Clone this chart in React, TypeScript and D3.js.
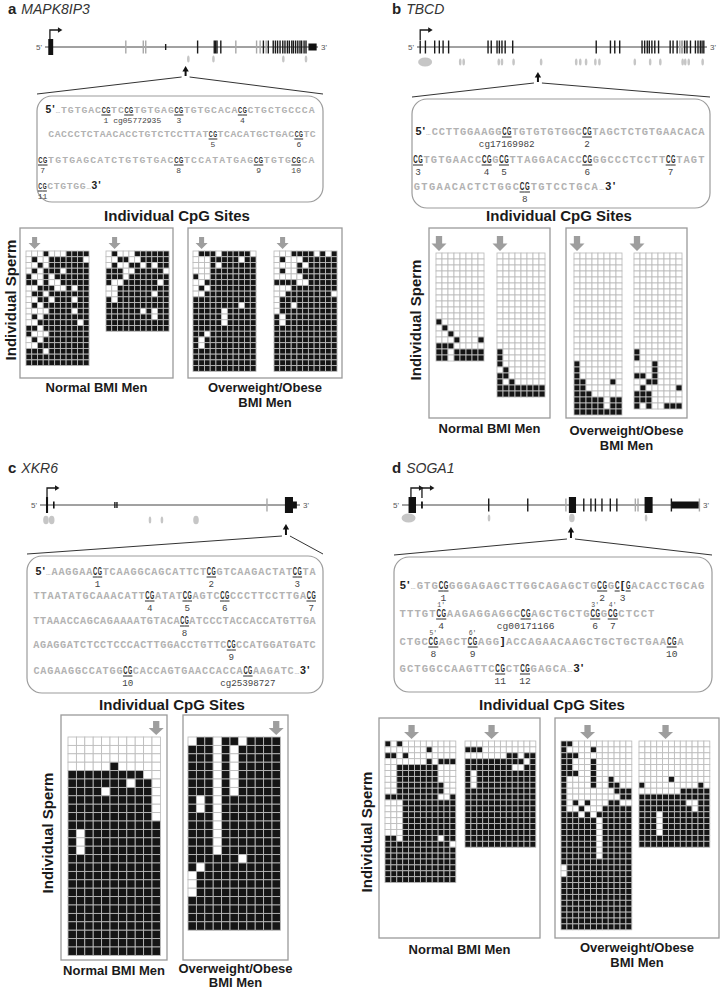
import React from "react";
import * as d3 from "d3";

// ===================== DATA =====================
const panelLetters = ["a", "b", "c", "d"];
const geneNames = ["MAPK8IP3", "TBCD", "XKR6", "SOGA1"];
const groupNormal = ["Normal BMI Men"];
const groupObese = ["Overweight/Obese", "BMI Men"];
const cpgTitle = "Individual CpG Sites";
const spermTitle = "Individual Sperm";

// gene models: [start, end, kind] on a 0-100 relative genomic axis
// kinds: C coding block, U UTR block, T exon tick, G grey tick, S short tick
const exonsA: [number, number, string][] = [
  [1.2, 3.0, "C"], [29.6, 29.6, "G"], [36.0, 36.0, "G"], [36.9, 36.9, "G"], [44.2, 44.2, "S"],
  [55.9, 55.9, "T"], [62.0, 62.0, "T"], [62.5, 62.5, "T"], [63.0, 63.0, "T"], [64.4, 64.4, "T"],
  [69.9, 69.9, "G"], [77.5, 77.5, "G"], [78.8, 78.8, "G"], [80.0, 80.0, "T"], [81.0, 81.0, "G"],
  [81.8, 81.8, "T"], [83.6, 83.6, "T"], [84.4, 84.4, "T"], [85.2, 85.2, "T"], [86.1, 86.1, "T"],
  [87.1, 87.1, "T"], [87.9, 87.9, "T"], [88.8, 88.8, "T"], [89.5, 89.5, "T"], [90.4, 90.4, "T"],
  [91.0, 91.0, "T"], [91.8, 91.8, "T"], [92.6, 92.6, "T"], [93.4, 93.4, "T"], [94.0, 94.0, "T"],
  [94.9, 94.9, "T"], [95.6, 95.6, "T"], [96.5, 99.5, "U"],
];
const exonsB: [number, number, string][] = [
  [1.1, 1.1, "T"], [2.9, 2.9, "T"], [6.1, 6.1, "T"], [7.7, 7.7, "T"], [9.0, 9.0, "T"], [10.9, 10.9, "T"],
  [24.5, 24.5, "T"], [25.6, 25.6, "T"], [27.6, 27.6, "T"], [28.4, 28.4, "T"], [29.3, 29.3, "T"],
  [30.4, 30.4, "T"], [33.0, 33.0, "T"], [61.8, 61.8, "T"], [66.7, 66.7, "T"], [68.2, 68.2, "T"],
  [69.9, 69.9, "T"], [77.6, 77.6, "T"], [78.5, 78.5, "T"], [79.4, 79.4, "T"], [80.1, 80.1, "T"],
  [81.0, 81.0, "T"], [82.0, 82.0, "T"], [83.3, 83.3, "T"], [87.3, 87.3, "T"], [88.3, 88.3, "T"],
  [89.7, 89.7, "T"], [90.6, 90.6, "G"], [91.2, 91.2, "G"], [91.6, 91.6, "G"], [92.3, 92.3, "T"],
  [93.1, 93.1, "T"], [94.3, 94.3, "T"], [96.0, 96.0, "T"], [96.9, 96.9, "T"], [97.7, 97.7, "T"],
  [98.3, 98.3, "T"], [98.9, 98.9, "T"],
];
const exonsC: [number, number, string][] = [
  [2.3, 3.1, "C"], [5.0, 5.6, "U"], [28.8, 28.8, "S"], [29.6, 29.6, "S"], [87.3, 87.3, "G"],
  [94.2, 97.3, "C"], [97.3, 98.8, "U"],
];
const exonsD: [number, number, string][] = [
  [2.2, 4.7, "C"], [6.4, 7.0, "U"], [29.1, 29.1, "T"], [42.2, 42.2, "T"], [55.0, 55.0, "G"],
  [56.0, 58.4, "C"], [61.0, 61.0, "T"], [63.4, 63.4, "T"], [64.9, 64.9, "T"], [67.1, 67.1, "T"],
  [69.9, 69.9, "T"], [72.1, 72.1, "T"], [78.3, 78.3, "G"], [79.2, 79.2, "G"], [81.4, 84.1, "C"],
  [90.4, 90.4, "T"], [90.6, 99.6, "U"], [99.8, 99.8, "G"],
];
// CpG islands: [position, size]
const islandsA: [number, string][] = [[52.5, "S"], [61.7, "S"], [87.3, "S"], [95.6, "S"]];
const islandsB: [number, string][] = [
  [2.8, "L"], [14.9, "S"], [16.1, "S"], [28.2, "S"], [29.3, "S"], [33.3, "S"], [42.8, "S"],
  [54.9, "S"], [56.3, "S"], [58.3, "S"], [61.5, "S"], [62.9, "S"], [75.1, "S"], [80.4, "S"],
  [83.9, "S"], [91.6, "S"], [92.5, "S"], [93.7, "S"], [98.5, "S"],
];
const islandsC: [number, string][] = [[2.3, "M"], [4.5, "M"], [42.3, "S"], [46.9, "S"], [60.0, "M"]];
const islandsD: [number, string][] = [[2.2, "L"], [29.2, "S"], [57.0, "M"], [81.9, "S"]];
const promotersA = [1.8];
const promotersB = [1.1];
const promotersC = [2.7];
const promotersD = [3.0, 6.7];
const targetA = 51.5;
const targetB = 41.7;
const targetC = 94.6;
const targetD = 56.7;

// sequences: <..> marks CpG (bold, underlined)
const seqA = [
  "5'…TGTGAC<CG>TC<CG>TGTGAG<CG>TGTGCACA<CG>CTGCTGCCCA",
  "CACCCTCTAACACCTGTCTCCTTAT<CG>TCACATGCTGAC<CG>TC",
  "<CG>TGTGAGCATCTGTGTGAC<CG>TCCATATGAG<CG>TGTG<CG>CA",
  "<CG>CTGTGG…3'",
];
const seqLabelsA: (string | { t: string })[][] = [[{ t: "1 cg05772935" }, "", "3", "4"], ["5", "6"], ["7", "8", "9", "10"], ["11"]];
const seqB = [
  "5'…CCTTGGAAGG<CG>TGTGTGTGGC<CG>TAGCTCTGTGAACACA",
  "<CG>TGTGAACC<CG>G<CG>TTAGGACACC<CG>GGCCCTCCTT<CG>TAGT",
  "GTGAACACTCTGGC<CG>TGTCCTGCA…3'",
];
const seqLabelsB: (string | { t: string })[][] = [["cg17169982", "2"], ["3", "4", "5", "6", "7"], ["8"]];
const seqC = [
  "5'…AAGGAA<CG>TCAAGGCAGCATTCT<CG>GTCAAGACTAT<CG>TA",
  "TTAATATGCAAACATT<CG>ATAT<CG>AGTC<CG>CCCTTCCTTGA<CG>",
  "TTAAACCAGCAGAAAATGTACA<CG>ATCCCTACCACCATGTTGA",
  "AGAGGATCTCCTCCCACTTGGACCTGTTC<CG>CCATGGATGATC",
  "CAGAAGGCCATGG<CG>CACCAGTGAACCACCA<CG>AAGATC…3'",
];
const seqLabelsC: (string | { t: string })[][] = [["1", "2", "3"], ["4", "5", "6", "7"], ["8"], ["9"], ["10", "cg25398727"]];
const seqD = [
  "5'…GTG<CG>GGGAGAGCTTGGCAGAGCTG<CG>G<C[G>ACACCTGCAG",
  "TTTGT<CG>AAGAGGAGGC<CG>AGCTGCTG<CG>G<CG>CTCCT",
  "CTGC<CG>AGCT<CG>AGG]ACCAGAACAAGCTGCTGCTGAA<CG>A",
  "GCTGGCCAAGTTC<CG>CT<CG>GAGCA…3'",
];
const seqLabelsD: (string | { t: string })[][] = [["1", "2", "3"], ["4", "cg00171166", "6", "7"], ["8", "9", "10"], ["11", "12"]];
const seqPrimesD: string[][] = [[], ["1'", "", "3'", "4'"], ["5'", "6'"], []];

// probe (Illumina array CpG) column in each grid
const probeCols = [1, 0, 10, 4];

// methylation grids: 1 = methylated (black), 0 = unmethylated (white)
const aNormal1 = [
  "00010001111", "01001111110", "00101111111", "01011101111", "10010111111",
  "11010011111", "00111001011", "01101111111", "00110111011", "01011111111",
  "00001111011", "01011111111", "00111111101", "11011111111", "10001111111",
  "01011111111", "00111111111", "11101111111", "11111111111", "11111111111",
];
const aNormal2 = [
  "01000111111", "00110011111", "01001101011", "11100111110", "11101111111",
  "10011111101", "00111111111", "00111111011", "10111111111", "11111111111",
  "11111101011", "11111111011", "11111111111", "11111111111",
];
const aObese1 = [
  "01110111110", "00011111011", "00010111111", "00011111111", "10011111111",
  "00111111111", "01011111111", "00111111111", "11111111111", "11111111011",
  "11111011111", "11111011111", "11111011111", "11111111111", "11011111111",
  "10111111111", "10111111111", "11111111111", "11111111111", "11111111111",
  "11111111111",
];
const aObese2 = [
  "00011110101", "01000111111", "00001011111", "01001111111", "00000111111",
  "11110011111", "00011111111", "00111111110", "01111111111", "01101111111",
  "01111111111", "10111111111", "10111111111", "11111111111", "11111111111",
  "11111111111", "11111111111", "11111111111", "11111111111", "11111111111",
  "11111111111",
];
const bNormal1 = [
  "00000000", "00000000", "00000000", "00000000", "00000000", "00000000",
  "00000000", "00000000", "00000000", "00000000", "00000000", "10000000",
  "01000000", "00100000", "00010001", "11100000", "11011111", "11011111",
];
const bNormal2 = [
  "00000000", "00000000", "00000000", "00000000", "00000000", "00000000",
  "00000000", "00000000", "00000000", "00000000", "00000000", "00000000",
  "00000000", "00000000", "00000000", "00000000", "10000000", "10000000",
  "10000000", "01000000", "11000000", "10100000", "11111111", "11111111",
];
const bObese1 = [
  "00000000", "00000000", "00000000", "00000000", "00000000", "00000000",
  "00000000", "00000000", "00000000", "00000000", "00000000", "00000000",
  "00000000", "00000000", "00000000", "00000000", "00000000", "00000000",
  "10000000", "10000000", "10000000", "11000010", "11000000", "11100000",
  "11111011", "11111011", "11111111",
];
const bObese2 = [
  "00000000", "00000000", "00000000", "00000000", "00000000", "00000000",
  "00000000", "00000000", "00000000", "00000000", "00000000", "00000000",
  "00000000", "00000000", "00000000", "00000000", "10000000", "10000000",
  "00010000", "00010000", "11010000", "00110000", "01000001", "11100000",
  "11100000", "10100111",
];
const cNormal = [
  "00000000000", "00000000000", "00000000000", "00000100000", "11111111100",
  "11111110110", "11110111110", "11111111110", "11111111110", "11111111110",
  "11111111111", "10111111111", "10111111111", "10111111111", "11111111111",
  "11111111111", "11111111111", "11111111111", "11111111111", "11111111111",
  "11111111111", "11111111111", "11111111111", "11111111111", "11111111111",
  "11111111111",
];
const cObese = [
  "01101101111", "11101011111", "11101011111", "11101011111", "11101011111",
  "11101011111", "11101011111", "10101111111", "10101111111", "11101111111",
  "11101111111", "11101111111", "11101111111", "11101111111", "11111101111",
  "10111111111", "01111111111", "01111111111", "01111111111", "11111111111",
  "11111111111", "11111111111", "11111111111",
];
const dNormal1 = [
  "101000000000", "000000010000", "110100000000", "000000010111", "001111111000",
  "001111111000", "001111111000", "001111111100", "001111111100", "111111111001",
  "000111111111", "000111111111", "000111111111", "000111111111", "000111111111",
  "000111111111", "110111111011", "111111111110", "111111111111", "111111111111",
  "111111111111", "111111111111", "111111111111", "111111111111",
];
const dNormal2 = [
  "000000000000", "111000000000", "000000011011", "111111111101", "111111110011",
  "101111111111", "101111111111", "101111111111", "111111111111", "111111111111",
  "111111111111", "111111111111", "111111111111", "111111111111", "111111111111",
  "111111111111", "111111111111", "111111111111",
];
const dObese1 = [
  "110000000000", "100001000000", "111000000000", "110001000000", "110001000000",
  "111001000000", "100001001000", "100001001100", "100000000111", "100000000011",
  "101010001100", "100100011111", "111010111111", "111111011111", "111111011111",
  "111111011111", "111111011111", "111111011111", "111111011111", "111111011111",
  "111111111111", "011111111111", "011111111111", "111111111111", "111111111111",
  "111111111111", "111111111111", "111111111111", "111111111111", "111111111111",
  "111111111111", "111111111111",
];
const dObese2 = [
  "000000000000", "000000000000", "000000000000", "000000000000", "000000000000",
  "000000000000", "000001000000", "100000000010", "000000011111", "111111111111",
  "111111110011", "111111111011", "111011111111", "111011111111", "111011111111",
  "111011111111", "111111111111", "111111111111",
];

// ===================== LAYOUT =====================
const panels = [
  {
    letter: panelLetters[0], gene: geneNames[0], exons: exonsA, islands: islandsA, promoters: promotersA, target: targetA,
    seq: seqA, seqLabels: seqLabelsA, seqPrimes: null as string[][] | null, grids: [aNormal1, aNormal2, aObese1, aObese2], probe: probeCols[0],
    L: {
      title: { x: 8, y: 14 },
      g: { x0: 45, x1: 318, y: 47, iy: 59, ty0: 66, ty1: 76 },
      box: { x: 37, y: 96, w: 286, h: 106 },
      fs: 9.8, lfs: 8, ldy: 10,
      lines: [{ x0: 45, x1: 315, y: 113 }, { x0: 48, x1: 316, y: 137 }, { x0: 38, x1: 315, y: 163 }, { x0: 38, x1: 101, y: 189 }],
      cpg: { x: 177, y: 221 },
      groups: [{ x: 20, y: 228, w: 153, h: 150 }, { x: 188, y: 228, w: 154, h: 150 }],
      nY: 392, oY: 392, oGap: 15,
      gridX: [26, 106, 193, 274], gridY: 251, pitch: 5.73, aw: 12, ah: 12,
      sperm: { x: 10, y: 300 },
    },
  },
  {
    letter: panelLetters[1], gene: geneNames[1], exons: exonsB, islands: islandsB, promoters: promotersB, target: targetB,
    seq: seqB, seqLabels: seqLabelsB, seqPrimes: null, grids: [bNormal1, bNormal2, bObese1, bObese2], probe: probeCols[1],
    L: {
      title: { x: 392, y: 14 },
      g: { x0: 417, x1: 707, y: 47, iy: 62, ty0: 72, ty1: 82 },
      box: { x: 412, y: 99, w: 298, h: 109 },
      fs: 10.4, lfs: 9.3, ldy: 12,
      lines: [{ x0: 415, x1: 705, y: 135 }, { x0: 413, x1: 705, y: 163 }, { x0: 413, x1: 616, y: 190 }],
      cpg: { x: 559, y: 221 },
      groups: [{ x: 429, y: 228, w: 121, h: 190 }, { x: 566, y: 228, w: 121, h: 190 }],
      nY: 433, oY: 435, oGap: 15,
      gridX: [436, 497, 574, 634], gridY: 253, pitch: 6.0, aw: 15, ah: 15,
      sperm: { x: 415, y: 320 },
    },
  },
  {
    letter: panelLetters[2], gene: geneNames[2], exons: exonsC, islands: islandsC, promoters: promotersC, target: targetC,
    seq: seqC, seqLabels: seqLabelsC, seqPrimes: null, grids: [cNormal, cObese], probe: probeCols[2],
    L: {
      title: { x: 8, y: 473 },
      g: { x0: 40, x1: 300, y: 505, iy: 520, ty0: 524, ty1: 535 },
      box: { x: 27, y: 556, w: 296, h: 137 },
      fs: 10.2, lfs: 9.2, ldy: 11.5,
      lines: [{ x0: 35, x1: 316, y: 575 }, { x0: 33, x1: 316, y: 599 }, { x0: 33, x1: 316, y: 624 }, { x0: 33, x1: 316, y: 648 }, { x0: 33, x1: 310, y: 674 }],
      cpg: { x: 172, y: 710 },
      groups: [{ x: 61, y: 715, w: 106, h: 245 }, { x: 183, y: 715, w: 105, h: 245 }],
      nY: 975, oY: 973, oGap: 14,
      gridX: [68, 188], gridY: 737, pitch: 8.4, aw: 15, ah: 14,
      sperm: { x: 47, y: 833 },
    },
  },
  {
    letter: panelLetters[3], gene: geneNames[3], exons: exonsD, islands: islandsD, promoters: promotersD, target: targetD,
    seq: seqD, seqLabels: seqLabelsD, seqPrimes: seqPrimesD, grids: [dNormal1, dNormal2, dObese1, dObese2], probe: probeCols[3],
    L: {
      title: { x: 392, y: 473 },
      g: { x0: 402, x1: 700, y: 505, iy: 518, ty0: 527, ty1: 538 },
      box: { x: 394, y: 557, w: 318, h: 135 },
      fs: 10.6, lfs: 9.6, ldy: 11.5,
      lines: [{ x0: 399, x1: 705, y: 589 }, { x0: 399, x1: 655, y: 617 }, { x0: 399, x1: 684, y: 645 }, { x0: 399, x1: 584, y: 672 }],
      cpg: { x: 552, y: 710 },
      groups: [{ x: 379, y: 718, w: 161, h: 220 }, { x: 555, y: 718, w: 164, h: 220 }],
      nY: 954, oY: 952, oGap: 15,
      gridX: [385, 465, 561, 639], gridY: 741, pitch: 5.9, aw: 15, ah: 14,
      sperm: { x: 366, y: 832 },
    },
  },
];

const SANS = "'Liberation Sans', Arial, Helvetica, sans-serif";
const MONO = "'Liberation Mono', 'DejaVu Sans Mono', monospace";
const KIND_H: Record<string, number> = { C: 8, U: 3.5, T: 6.5, G: 6.5, S: 3 };
const ISL: Record<string, [number, number]> = { L: [7, 4.5], M: [2.8, 4.3], S: [1.3, 3.6] };
// Liberation Sans Bold advance widths (em)
const BOLD_ADV: Record<string, number> = { C: 0.722, G: 0.778 };

type Ch = { ch: string; kind: string; w: number; group: number; left: number; width: number };

function layoutLine(text: string, x0: number, x1: number): Ch[] {
  const chars: Ch[] = [];
  let g = -1;
  let inG = false;
  for (const ch of Array.from(text)) {
    if (ch === "<") { inG = true; g++; continue; }
    if (ch === ">") { inG = false; continue; }
    let kind = "seq";
    let w = 1;
    if (ch === "'") { kind = "end"; w = 0.5; }
    else if (/[0-9]/.test(ch)) { kind = "end"; w = 1; }
    else if (ch === "[" || ch === "]") { kind = "mark"; w = 0.8; }
    else if (ch === "…") { kind = "dots"; w = 0.8; }
    else if (inG) { kind = "cg"; w = 0.68; }
    chars.push({ ch, kind, w, group: inG ? g : -1, left: 0, width: 0 });
  }
  const total = d3.sum(chars, (c) => c.w);
  const sx = d3.scaleLinear().domain([0, total]).range([x0, x1]);
  let cum = 0;
  for (const c of chars) {
    c.left = sx(cum);
    c.width = sx(cum + c.w) - sx(cum);
    cum += c.w;
  }
  return chars;
}

function downArrow(cx: number, yb: number, w: number, h: number) {
  const sw = w * 0.42;
  const hh = h * 0.5;
  return `M${cx - sw / 2},${yb - h}L${cx + sw / 2},${yb - h}L${cx + sw / 2},${yb - hh}L${cx + w / 2},${yb - hh}L${cx},${yb}L${cx - w / 2},${yb - hh}L${cx - sw / 2},${yb - hh}Z`;
}

function Grid({ rows, x, y, pitch, probe, aw, ah }: any) {
  const ncol = rows[0].length;
  const nrow = rows.length;
  const xs = d3.scaleBand<number>().domain(d3.range(ncol)).range([x, x + ncol * pitch]);
  const ys = d3.scaleBand<number>().domain(d3.range(nrow)).range([y, y + nrow * pitch]);
  const ax = (xs(probe) as number) + xs.bandwidth() / 2;
  return (
    <g>
      <path d={downArrow(ax, y - 2, aw, ah)} fill="#9e9e9e" />
      {rows.map((r: string, i: number) =>
        Array.from(r).map((c, j) => (
          <rect
            key={`${i}-${j}`}
            x={xs(j)}
            y={ys(i)}
            width={xs.bandwidth()}
            height={ys.bandwidth()}
            fill={c === "1" ? "#151515" : "#ffffff"}
            stroke="#bcbcbc"
            strokeWidth={0.85}
          />
        ))
      )}
    </g>
  );
}

function Panel({ p }: { p: any }) {
  const L = p.L;
  const g = L.g;
  const gx = d3.scaleLinear().domain([0, 100]).range([g.x0, g.x1]);
  const tx = gx(p.target);
  return (
    <g>
      {/* panel title */}
      <text x={L.title.x} y={L.title.y} fontFamily={SANS} fontSize={15} fill="#222">
        <tspan fontWeight="bold">{p.letter}</tspan>
        <tspan dx={5} fontStyle="italic" fontSize={14} fill="#333">{p.gene}</tspan>
      </text>

      {/* gene model */}
      <text x={g.x0 - 3} y={g.y + 3} fontFamily={SANS} fontSize={8} fill="#555" textAnchor="end">5'</text>
      <line x1={g.x0} x2={g.x1} y1={g.y} y2={g.y} stroke="#444" strokeWidth={1} />
      <text x={g.x1 + 3} y={g.y + 3} fontFamily={SANS} fontSize={8} fill="#555">3'</text>
      {p.islands.map(([pos, k]: [number, string], i: number) => (
        <ellipse key={i} cx={gx(pos)} cy={g.iy} rx={ISL[k][0]} ry={ISL[k][1]} fill="#c6c6c6" />
      ))}
      {p.exons.map(([s, e, k]: [number, number, string], i: number) => {
        const h = KIND_H[k];
        if (k === "C" || k === "U") {
          return <rect key={i} x={gx(s)} y={g.y - h} width={Math.max(1.6, gx(e) - gx(s))} height={2 * h} fill="#111" />;
        }
        return (
          <line key={i} x1={gx(s)} x2={gx(s)} y1={g.y - h} y2={g.y + h}
            stroke={k === "G" ? "#a8a8a8" : "#1a1a1a"} strokeWidth={1.4} />
        );
      })}
      {p.promoters.map((pos: number, i: number) => {
        const x = gx(pos);
        const top = g.y - 17;
        return (
          <g key={i}>
            <path d={`M${x},${g.y - 7}V${top}H${x + 9}`} fill="none" stroke="#1a1a1a" strokeWidth={1.3} />
            <path d={`M${x + 12.5},${top}L${x + 8},${top - 2.8}L${x + 8},${top + 2.8}Z`} fill="#1a1a1a" />
          </g>
        );
      })}
      {/* target arrow */}
      <line x1={tx} x2={tx} y1={g.ty1} y2={g.ty0 + 4} stroke="#111" strokeWidth={2} />
      <path d={`M${tx},${g.ty0}L${tx - 3.2},${g.ty0 + 5.5}L${tx + 3.2},${g.ty0 + 5.5}Z`} fill="#111" />
      <line x1={tx - 4} y1={g.ty1 + 1} x2={L.box.x} y2={L.box.y - 2} stroke="#333" strokeWidth={1} />
      <line x1={tx + 4} y1={g.ty1 + 1} x2={L.box.x + L.box.w} y2={L.box.y - 2} stroke="#333" strokeWidth={1} />

      {/* sequence box */}
      <rect x={L.box.x} y={L.box.y} width={L.box.w} height={L.box.h} rx={15} ry={15} fill="none" stroke="#9c9c9c" strokeWidth={1.2} />
      {p.seq.map((line: string, li: number) => {
        const ly = L.lines[li];
        const chars = layoutLine(line, ly.x0, ly.x1);
        const groups = Array.from(d3.group(chars.filter((c) => c.group >= 0), (c) => c.group).values());
        const labels = p.seqLabels[li] || [];
        const primes = p.seqPrimes ? p.seqPrimes[li] : [];
        return (
          <g key={li}>
            {chars.map((c, ci) => {
              if (c.kind === "cg") {
                const sx = (c.width - 0.5) / (L.fs * (BOLD_ADV[c.ch] || 0.72));
                return (
                  <g key={ci}>
                    <text transform={`translate(${c.left + 0.25},${ly.y}) scale(${sx},1)`}
                      fontFamily={SANS} fontWeight="bold" fontSize={L.fs} fill="#2a2a2a">{c.ch}</text>
                    <line x1={c.left} x2={c.left + c.width} y1={ly.y + 2} y2={ly.y + 2} stroke="#2a2a2a" strokeWidth={1} />
                  </g>
                );
              }
              if (c.kind === "end" || c.kind === "mark") {
                return (
                  <text key={ci} x={c.left + c.width / 2} y={ly.y} textAnchor="middle" fontFamily={SANS}
                    fontWeight="bold" fontSize={L.fs + 0.5} fill="#222">{c.ch}</text>
                );
              }
              if (c.kind === "dots") {
                return (
                  <text key={ci} x={c.left + c.width / 2} y={ly.y} textAnchor="middle" fontFamily={MONO}
                    fontSize={L.fs * 0.75} fill="#9a9a9a">{c.ch}</text>
                );
              }
              return (
                <text key={ci} x={c.left + c.width / 2} y={ly.y} textAnchor="middle" fontFamily={MONO}
                  fontWeight="bold" fontSize={L.fs} fill="#b2b2b2">{c.ch}</text>
              );
            })}
            {groups.map((gr, gi) => {
              const x0 = gr[0].left;
              const x1 = gr[gr.length - 1].left + gr[gr.length - 1].width;
              const cx = (x0 + x1) / 2;
              const lab = labels[gi];
              const pr = primes[gi];
              return (
                <g key={gi}>
                  {lab && typeof lab === "object" ? (
                    <text x={cx - L.lfs * 0.3} y={ly.y + L.ldy} fontFamily={MONO} fontSize={L.lfs} fill="#444">{lab.t}</text>
                  ) : lab ? (
                    <text x={cx} y={ly.y + L.ldy} textAnchor="middle" fontFamily={MONO} fontSize={L.lfs} fill="#444">{lab}</text>
                  ) : null}
                  {pr ? (
                    <text x={cx} y={ly.y - L.fs + 0.5} textAnchor="middle" fontFamily={MONO} fontSize={6.5} fill="#555">{pr}</text>
                  ) : null}
                </g>
              );
            })}
          </g>
        );
      })}

      {/* CpG sites title */}
      <text x={L.cpg.x} y={L.cpg.y} textAnchor="middle" fontFamily={SANS} fontWeight="bold" fontSize={15} fill="#1a1a1a">{cpgTitle}</text>

      {/* group boxes */}
      {L.groups.map((b: any, i: number) => (
        <rect key={i} x={b.x} y={b.y} width={b.w} height={b.h} fill="none" stroke="#9a9a9a" strokeWidth={1.3} />
      ))}
      {p.grids.map((rows: string[], i: number) => (
        <Grid key={i} rows={rows} x={L.gridX[i]} y={L.gridY} pitch={L.pitch} probe={p.probe} aw={L.aw} ah={L.ah} />
      ))}
      {/* group labels */}
      <text x={L.groups[0].x + L.groups[0].w / 2} y={L.nY} textAnchor="middle" fontFamily={SANS} fontWeight="bold" fontSize={13} fill="#1a1a1a">{groupNormal[0]}</text>
      {groupObese.map((t, i) => (
        <text key={i} x={L.groups[1].x + L.groups[1].w / 2} y={L.oY + i * L.oGap} textAnchor="middle" fontFamily={SANS} fontWeight="bold" fontSize={13} fill="#1a1a1a">{t}</text>
      ))}
      {/* y label */}
      <text transform={`translate(${L.sperm.x},${L.sperm.y}) rotate(-90)`} textAnchor="middle" dominantBaseline="central"
        fontFamily={SANS} fontWeight="bold" fontSize={15} fill="#1a1a1a">{spermTitle}</text>
    </g>
  );
}

export default function App() {
  return (
    <svg width={723} height={990} viewBox="0 0 723 990" style={{ position: "absolute", left: 0, top: 0, display: "block" }}>
      <rect x={0} y={0} width={723} height={990} fill="#ffffff" />
      {panels.map((p, i) => (
        <Panel key={i} p={p} />
      ))}
    </svg>
  );
}
